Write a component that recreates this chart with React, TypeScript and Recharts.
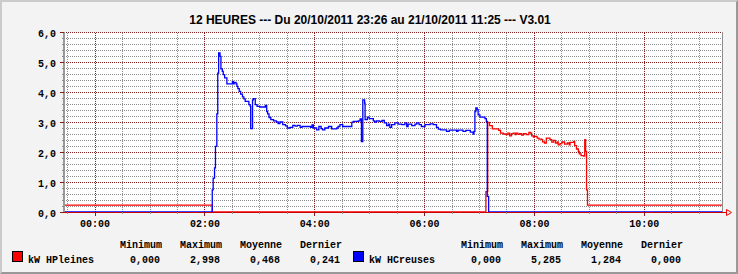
import { LineChart, Line, XAxis, YAxis, CartesianGrid, ReferenceLine } from 'recharts';

const title = '12 HEURES --- Du 20/10/2011 23:26 au 21/10/2011 11:25 --- V3.01';

// time axis in minutes from midnight 21/10 (negative = evening of 20/10)
const startMin = -34;
const endMin = 685;
const hourLabels = [0, 120, 240, 360, 480, 600];
const halfHours = [-30, 0, 30, 60, 90, 120, 150, 180, 210, 240, 270, 300, 330, 360, 390, 420, 450, 480, 510, 540, 570, 600, 630, 660];
const kwMajor = [0, 1, 2, 3, 4, 5, 6];

// [minute, kW], stepped
const hpleines: [number, number][] = [
  [-34, 0.23], [128, 0], [427, 0.68], [429, 2.99], [431, 2.88], [434, 2.77], [441, 2.72], [443, 2.63],
  [446, 2.6], [449, 2.58], [451, 2.63], [453, 2.54], [455, 2.61], [457, 2.63], [459, 2.58], [460, 2.63],
  [462, 2.59], [464, 2.61], [466, 2.56], [468, 2.61], [471, 2.58], [474, 2.65], [476, 2.63], [477, 2.54],
  [479, 2.5], [480, 2.52], [483, 2.46], [485, 2.43], [488, 2.41], [489, 2.34], [491, 2.3], [493, 2.46],
  [497, 2.41], [499, 2.33], [501, 2.39], [503, 2.3], [505, 2.34], [506, 2.24], [508, 2.28], [510, 2.32],
  [511, 2.34], [513, 2.26], [516, 2.3], [518, 2.24], [519, 2.32], [523, 2.35], [524, 2.21], [526, 2.1],
  [528, 2.02], [529, 1.94], [531, 1.88], [534, 1.86], [535, 2.41], [536, 2.02], [537, 0.74], [538, 0.23],
  [685, 0.23],
];

const hcreuses: [number, number][] = [
  [-34, 0], [128, 0.74], [129, 1.13], [130.5, 1.47], [131.5, 2.19], [133, 3.27], [134, 4.63], [135, 5.3],
  [136.5, 5.19], [137.5, 4.77], [139, 4.69], [140, 4.58], [141.5, 4.47], [144, 4.27], [150, 4.35], [151, 4.27],
  [152, 4.32], [154, 4.27], [155, 4.19], [156, 4.11], [157.5, 4.02], [159, 3.93], [161, 3.84], [162.5, 3.77],
  [164, 3.69], [168, 3.58], [169.5, 3.52], [170, 2.78], [172, 3.74], [173, 3.78], [175, 3.58], [177, 3.52],
  [180, 3.5], [186, 3.55], [187.5, 3.35], [188.5, 3.27], [190, 3.15], [192, 3.08], [195, 3.04], [198, 3.0],
  [200, 2.95], [202, 3.0], [205, 2.91], [208, 2.87], [210, 2.8], [213, 2.82], [216, 2.89], [218.5, 2.86],
  [221, 2.89], [224, 2.82], [226, 2.85], [235.5, 2.82], [237, 2.9], [238.5, 2.8], [242, 2.74], [244.5, 2.85],
  [247, 2.78], [248.5, 2.74], [251, 2.8], [255, 2.85], [258.5, 2.77], [264, 2.8], [265.5, 2.85], [267.5, 2.91],
  [270.5, 2.85], [280.5, 2.99], [282, 3.02], [287.5, 3.04], [289.5, 3.1], [291, 2.35], [292.5, 3.74], [294.5, 3.63],
  [295, 3.08], [297.5, 3.16], [299.5, 3.11], [304, 3.04], [305.5, 3.0], [307.5, 3.04], [310.5, 3.02], [313.5, 3.05],
  [316, 2.97], [318.5, 2.88], [320.5, 2.93], [322, 2.82], [324, 2.91], [327.5, 2.97], [331, 2.93], [335, 2.91],
  [338.5, 2.97], [340.5, 2.85], [342, 2.93], [346, 2.88], [349.5, 2.93], [351.5, 2.97], [354, 2.91], [356.5, 2.85],
  [360.5, 2.91], [366, 2.94], [369.5, 2.91], [373, 2.82], [375, 2.76], [377.5, 2.74], [384, 2.69], [387, 2.73],
  [395, 2.69], [396.5, 2.73], [402, 2.69], [405, 2.72], [410, 2.66], [413, 2.6], [414, 2.69], [415, 3.35],
  [416, 3.47], [417.5, 3.41], [418.5, 3.24], [420.5, 3.16], [426, 3.11], [427.5, 3.02], [428.5, 0.52], [430, 0],
  [685, 0],
];

const statHeaders = ['Minimum', 'Maximum', 'Moyenne', 'Dernier'];
const hpStats = ['0,000', '2,998', '0,468', '0,241'];
const hcStats = ['0,000', '5,285', '1,284', '0,000'];

const GRID = '#8c8c8c';
const MGRID = '#821e1e';
const MONO = '"Liberation Mono", "Courier New", monospace';

const kwAll = Array.from({ length: 31 }, (_, i) => Number((i * 0.2).toFixed(1)));
const kwMinor = kwAll.filter((v) => !kwMajor.includes(v));
const halfMinor = halfHours.filter((m) => !hourLabels.includes(m));

const hpData = hpleines.map(([t, v]) => ({ t, v }));
const hcData = hcreuses.map(([t, v]) => ({ t, v }));

const fmtTime = (m: number) => {
  const h = Math.floor(m / 60);
  return `${String(h).padStart(2, '0')}:${String(m % 60).padStart(2, '0')}`;
};

function YTick({ x, y, payload }: any) {
  const v = payload.value as number;
  const major = kwMajor.includes(v);
  return (
    <g>
      <line x1={x - (major ? 4 : 2)} x2={x} y1={y} y2={y} stroke={major ? MGRID : GRID} shapeRendering="crispEdges" />
      {major && (
        <text x={x - 8} y={y + 5} textAnchor="end" fontFamily={MONO} fontWeight="bold" fontSize={10} fill="#000">
          {v.toFixed(1).replace('.', ',')}
        </text>
      )}
    </g>
  );
}

function XTick({ x, y, payload }: any) {
  const m = payload.value as number;
  const major = hourLabels.includes(m);
  return (
    <g>
      <line x1={x} x2={x} y1={y} y2={y + (major ? 4 : 2)} stroke={major ? MGRID : GRID} shapeRendering="crispEdges" />
      {major && (
        <text x={x} y={y + 14.5} textAnchor="middle" fontFamily={MONO} fontWeight="bold" fontSize={10} fill="#000">
          {fmtTime(m)}
        </text>
      )}
    </g>
  );
}

function LegendRow({ dx, color, label, stats }: { dx: number; color: string; label: string; stats: string[] }) {
  return (
    <g fontFamily={MONO} fontWeight="bold" fontSize={10} fill="#000">
      <rect x={12.5 + dx} y={251.5} width={10} height={10} fill={color} stroke="#000" />
      <text x={28 + dx} y={263}>{label}</text>
      {statHeaders.map((h, i) => (
        <text key={h} x={120 + dx + i * 60} y={248}>{h}</text>
      ))}
      {stats.map((s, i) => (
        <text key={i} x={130 + dx + i * 60} y={263}>{s}</text>
      ))}
    </g>
  );
}

export default function App() {
  return (
    <div style={{ position: 'relative', width: 738, height: 274, background: '#f3f3f3' }}>
      <style>{'body{margin:0}'}</style>
      <LineChart width={738} height={274} margin={{ top: 32, right: 16, bottom: 42, left: 4 }}>
        <CartesianGrid stroke="none" fill="#ffffff" />
        {kwMinor.map((v) => (
          <ReferenceLine key={'hm' + v} y={v} stroke={GRID} strokeDasharray="1 1" shapeRendering="crispEdges" />
        ))}
        {halfMinor.map((m) => (
          <ReferenceLine key={'vm' + m} x={m} stroke={GRID} strokeDasharray="1 1" shapeRendering="crispEdges" />
        ))}
        {kwMajor.map((v) => (
          <ReferenceLine key={'hM' + v} y={v} stroke={MGRID} strokeDasharray="1 1" shapeRendering="crispEdges" />
        ))}
        {hourLabels.map((m) => (
          <ReferenceLine key={'vM' + m} x={m} stroke={MGRID} strokeDasharray="1 1" shapeRendering="crispEdges" />
        ))}
        <ReferenceLine x={endMin} stroke={GRID} shapeRendering="crispEdges" />
        <XAxis
          dataKey="t"
          type="number"
          domain={[startMin, endMin]}
          allowDataOverflow
          ticks={halfHours}
          interval={0}
          height={20}
          tickSize={0}
          tickMargin={0}
          tick={<XTick />}
          axisLine={{ stroke: '#cc0000', shapeRendering: 'crispEdges' }}
        />
        <YAxis
          type="number"
          domain={[0, 6]}
          allowDataOverflow
          ticks={kwAll}
          interval={0}
          width={60}
          tickSize={0}
          tickMargin={0}
          tick={<YTick />}
          axisLine={{ stroke: '#999999', strokeWidth: 2 }}
        />
        <Line data={hpData} dataKey="v" name="kW HPleines" type="stepAfter" stroke="#ff0000" strokeWidth={1.3} dot={false} isAnimationActive={false} />
        <Line data={hcData} dataKey="v" name="kW HCreuses" type="stepAfter" stroke="#0000ff" strokeWidth={1.3} dot={false} isAnimationActive={false} />
      </LineChart>
      <svg width={738} height={274} style={{ position: 'absolute', left: 0, top: 0, pointerEvents: 'none' }}>
        <text x={370} y={24} textAnchor="middle" fontFamily='"Liberation Sans", Arial, sans-serif' fontWeight="bold" fontSize={12} fill="#000">
          {title}
        </text>
        <line x1={722} x2={727} y1={212} y2={212} stroke="#cc0000" shapeRendering="crispEdges" />
        <polygon points="726.5,209.5 731.5,212.5 726.5,215.5" fill="none" stroke="#ff0000" />
        <LegendRow dx={0} color="#ff0000" label="kW HPleines" stats={hpStats} />
        <LegendRow dx={341} color="#0000ff" label="kW HCreuses" stats={hcStats} />
      </svg>
      <div
        style={{
          position: 'absolute',
          inset: 0,
          boxSizing: 'border-box',
          borderTop: '2px solid #cbcbcb',
          borderLeft: '2px solid #cbcbcb',
          borderRight: '2px solid #999999',
          borderBottom: '2px solid #999999',
          pointerEvents: 'none',
        }}
      />
    </div>
  );
}
